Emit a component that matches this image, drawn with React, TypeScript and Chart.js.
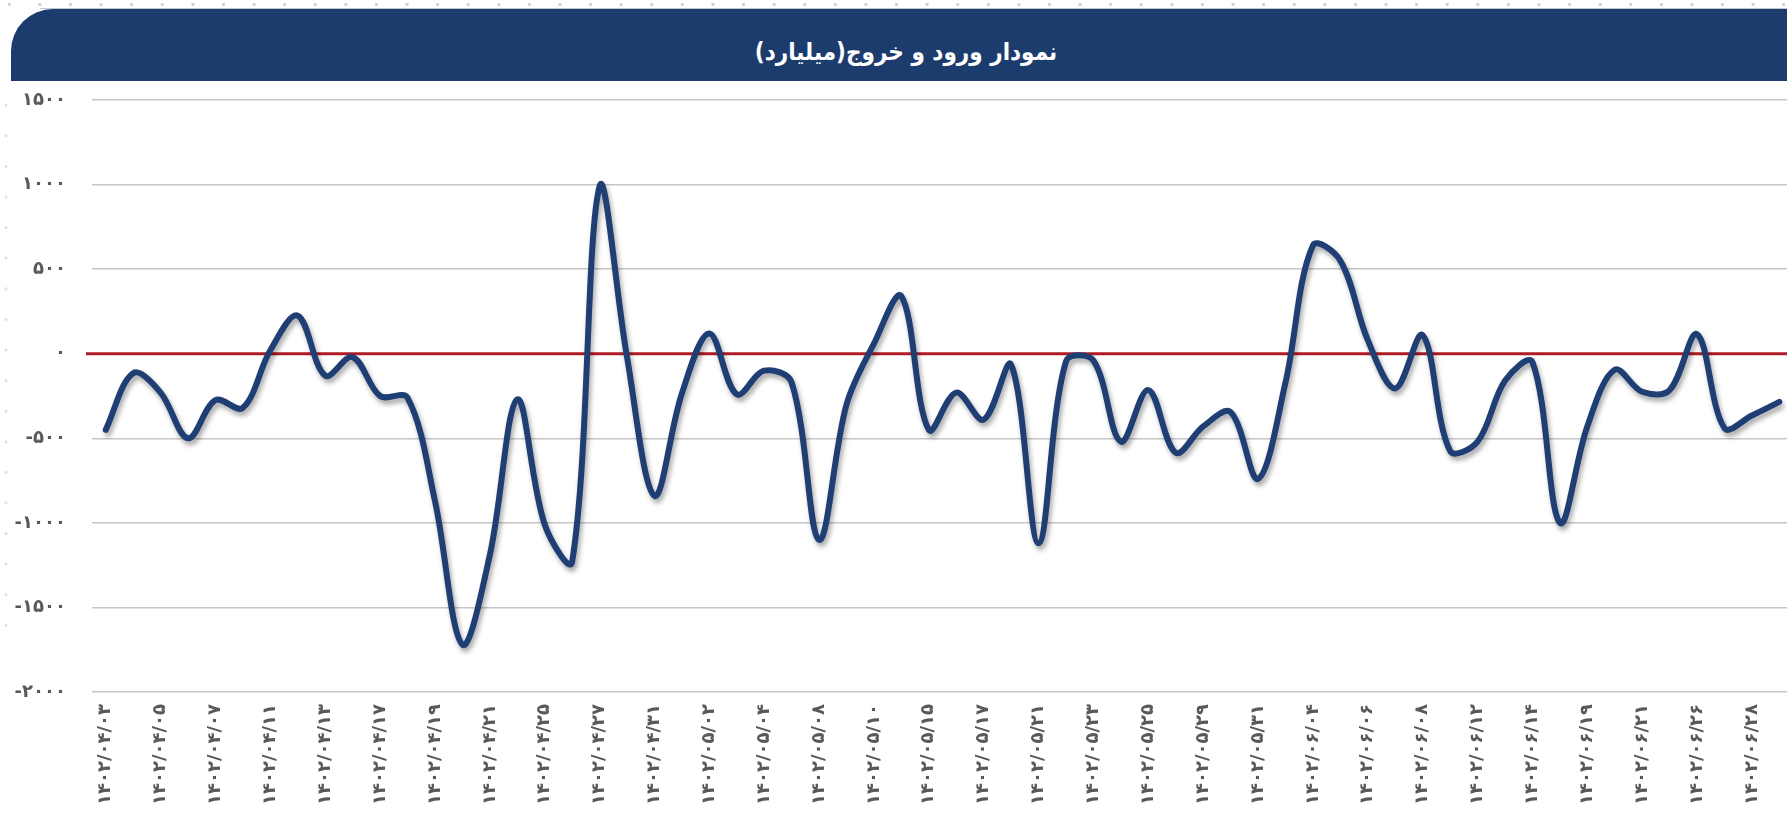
import React, { useEffect, useRef } from "react";
import { Chart, registerables } from "chart.js";

Chart.register(...registerables);

// ---- data ----
const dates: string[] = [
  "1402/04/03", "1402/04/04", "1402/04/05", "1402/04/06", "1402/04/07", "1402/04/10",
  "1402/04/11", "1402/04/12", "1402/04/13", "1402/04/14", "1402/04/17", "1402/04/18",
  "1402/04/19", "1402/04/20", "1402/04/21", "1402/04/24", "1402/04/25", "1402/04/26",
  "1402/04/27", "1402/04/28", "1402/04/31", "1402/05/01", "1402/05/02", "1402/05/03",
  "1402/05/04", "1402/05/07", "1402/05/08", "1402/05/09", "1402/05/10", "1402/05/14",
  "1402/05/15", "1402/05/16", "1402/05/17", "1402/05/18", "1402/05/21", "1402/05/22",
  "1402/05/23", "1402/05/24", "1402/05/25", "1402/05/28", "1402/05/29", "1402/05/30",
  "1402/05/31", "1402/06/01", "1402/06/04", "1402/06/05", "1402/06/06", "1402/06/07",
  "1402/06/08", "1402/06/11", "1402/06/12", "1402/06/13", "1402/06/14", "1402/06/18",
  "1402/06/19", "1402/06/20", "1402/06/21", "1402/06/22", "1402/06/26", "1402/06/27",
  "1402/06/28", "1402/06/29",
];

const netFlow: number[] = [
  -450, -115, -230, -500, -275, -320, 20, 225, -130, -20, -250, -260,
  -870, -1720, -1190, -270, -1010, -1230, 990, -20, -840, -235, 120, -240,
  -100, -170, -1100, -300, 60, 340, -450, -230, -390, -65, -1120, -45,
  -40, -520, -215, -585, -430, -345, -740, -170, 640, 550, 80, -205,
  110, -575, -520, -160, -50, -1000, -430, -95, -225, -215, 115, -440,
  -365, -285,
];

const yMin = -2000;
const yMax = 1500;
const yStep = 500;
const zeroLineValue = 0;

const titleText = "نمودار ورود و خروج(میلیارد)";

const faDigits = "۰۱۲۳۴۵۶۷۸۹";
const toFa = (s: string | number) =>
  String(s).replace(/[0-9]/g, (d) => faDigits[Number(d)]);

const labelsFa = dates.map(toFa);

export default function App() {
  const canvasRef = useRef<HTMLCanvasElement | null>(null);

  useEffect(() => {
    const canvas = canvasRef.current;
    if (!canvas) return;

    const shadowPlugin = {
      id: "lineShadow",
      beforeDatasetsDraw(chart: any) {
        const { ctx, chartArea, scales } = chart;
        const y = scales.y.getPixelForValue(zeroLineValue);
        ctx.save();
        ctx.strokeStyle = "#b01c24";
        ctx.lineWidth = 3;
        ctx.beginPath();
        ctx.moveTo(chartArea.left - 6, y);
        ctx.lineTo(chartArea.right, y);
        ctx.stroke();
        ctx.restore();
      },
      beforeDatasetDraw(chart: any) {
        const ctx = chart.ctx;
        ctx.save();
        ctx.shadowColor = "rgba(0,0,0,0.35)";
        ctx.shadowBlur = 5;
        ctx.shadowOffsetX = 2;
        ctx.shadowOffsetY = 4;
      },
      afterDatasetDraw(chart: any) {
        chart.ctx.restore();
      },
    };

    const tickFont = { family: "'DejaVu Sans', sans-serif", size: 18, weight: "bold" };

    const chart = new Chart(canvas, {
      type: "line",
      data: {
        labels: labelsFa,
        datasets: [
          {
            data: netFlow,
            borderColor: "#1f3f74",
            borderWidth: 6,
            pointRadius: 0,
            tension: 0.35,
            fill: false,
            borderCapStyle: "round",
            borderJoinStyle: "round",
          },
        ],
      },
      options: {
        responsive: false,
        animation: false,
        devicePixelRatio: 1,
        layout: { padding: { left: 0, right: 6, top: 100, bottom: 0 } },
        plugins: {
          legend: { display: false },
          tooltip: { enabled: false },
        },
        scales: {
          x: {
            offset: true,
            grid: { display: false, drawTicks: false },
            border: { display: false },
            afterFit: (scale: any) => {
              scale.height = 126;
            },
            ticks: {
              autoSkip: false,
              maxRotation: 90,
              minRotation: 90,
              padding: 12,
              color: "#595959",
              font: tickFont,
              callback: (_v: any, i: number) => (i % 2 === 0 ? labelsFa[i] : ""),
            },
          },
          y: {
            min: yMin,
            max: yMax,
            afterFit: (scale: any) => {
              scale.width = 92;
            },
            grid: {
              drawTicks: false,
              color: (ctx: any) =>
                ctx.tick && ctx.tick.value === zeroLineValue ? "rgba(0,0,0,0)" : "#c6c6c6",
              lineWidth: 1.5,
            },
            border: { display: false },
            ticks: {
              stepSize: yStep,
              padding: 26,
              color: "#595959",
              font: tickFont,
              callback: (v: any) => toFa(v),
            },
          },
        },
      },
      plugins: [shadowPlugin],
    } as any);

    return () => chart.destroy();
  }, []);

  const dotBg = "radial-gradient(circle, #cfcfcf 0 1.3px, transparent 1.9px)";

  return (
    <div
      style={{
        position: "fixed",
        left: 0,
        top: 0,
        width: 1787,
        height: 818,
        overflow: "hidden",
        background: "#ffffff",
      }}
    >
      <div
        style={{
          position: "absolute",
          left: 0,
          top: 0,
          width: 1787,
          height: 9,
          backgroundImage: dotBg,
          backgroundSize: "30.6px 9px",
          backgroundPosition: "-6px 0",
        }}
      />
      <div
        style={{
          position: "absolute",
          left: 0,
          top: 90,
          width: 12,
          height: 560,
          backgroundImage: dotBg,
          backgroundSize: "12px 30.6px",
          opacity: 0.6,
        }}
      />
      <div
        style={{
          position: "absolute",
          left: 40,
          right: 0,
          top: 8,
          height: 1,
          background: "#c4c7cc",
        }}
      />
      <div
        dir="rtl"
        style={{
          position: "absolute",
          left: 11,
          top: 9,
          width: 1790,
          height: 72,
          background: "#1d3c6e",
          borderTopLeftRadius: 42,
          borderTopRightRadius: 14,
          color: "#ffffff",
          fontFamily: "'DejaVu Sans Condensed', 'DejaVu Sans', sans-serif",
          fontStretch: "condensed",
          fontWeight: "bold",
          fontSize: 24,
          display: "flex",
          alignItems: "center",
          justifyContent: "center",
          paddingTop: 14,
          boxSizing: "border-box",
        }}
      >
        {titleText}
      </div>
      <canvas
        ref={canvasRef}
        width={1813}
        height={818}
        style={{ position: "absolute", left: 0, top: 0, width: 1813, height: 818 }}
      />
    </div>
  );
}
